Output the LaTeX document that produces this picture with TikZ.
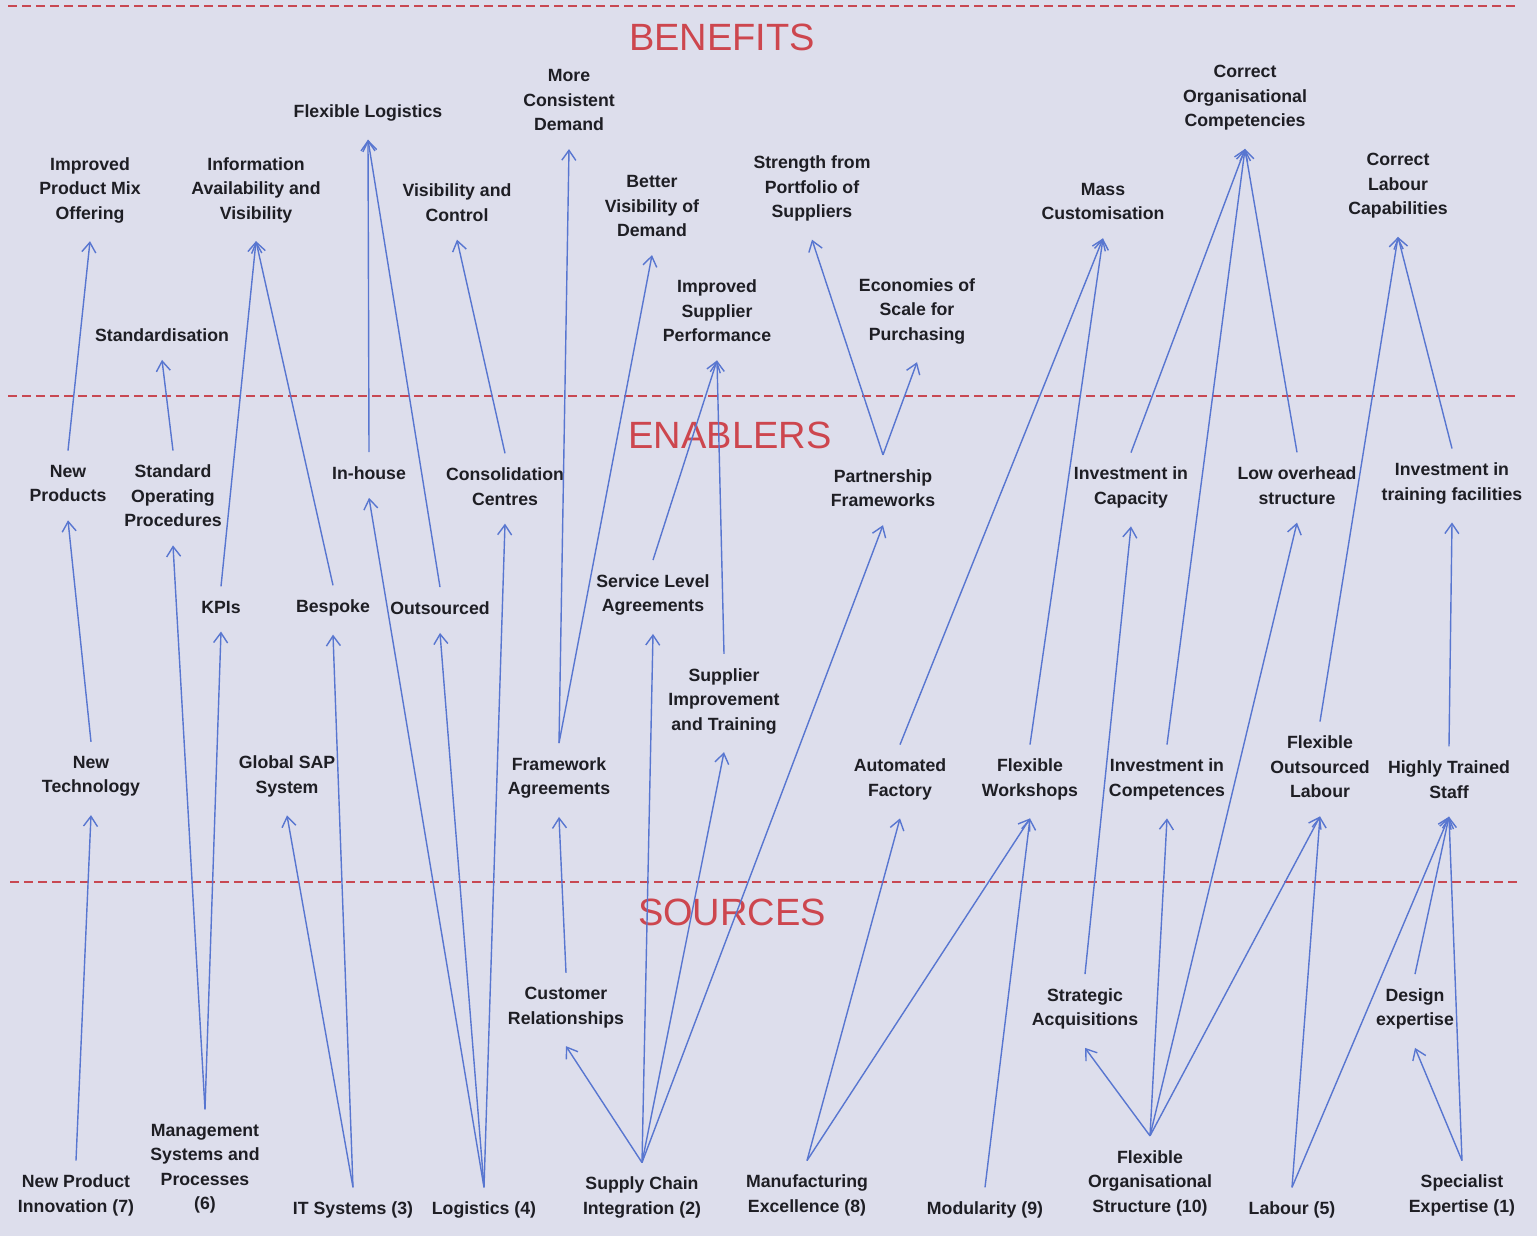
\documentclass[tikz,border=0pt]{standalone}
\usepackage{fontspec}
\setmainfont{Liberation Sans}
\usetikzlibrary{arrows.meta}

\definecolor{paper}{RGB}{221,222,236}
\definecolor{rulered}{RGB}{200,72,82}
\definecolor{linkblue}{RGB}{88,118,208}
\definecolor{ink}{RGB}{30,30,36}
\definecolor{tierred}{RGB}{205,70,78}

% arrow from the top of one label to the bottom of another
\newcommand\link[2]{\draw[conn] ([yshift=7pt]#1.north) -- ([yshift=-9pt]#2.south);}

\begin{document}
\begin{tikzpicture}[x=0.5pt,y=-0.5pt,
  lbl/.style={align=center, inner sep=0pt, text=ink,
    font=\bfseries\fontsize{8.85}{12.25}\selectfont},
  tier/.style={inner sep=0pt, text=tierred, font=\fontsize{19}{22}\selectfont},
  divider/.style={rulered, line width=1.2pt, dash pattern=on 4.5pt off 2.5pt},
  conn/.style={linkblue, line width=0.7pt, -{Straight Barb[length=5pt,width=7pt]}}]

\fill[paper] (0,0) rectangle (1537,1236);
\useasboundingbox (0,0) rectangle (1537,1236);

% tier dividers
\draw[divider] (8,6) -- (1520,6);
\draw[divider] (8,396) -- (1520,396);
\draw[divider] (10,882) -- (1520,882);

% tier headings
\node[tier] (hBen) at (722,37) {BENEFITS};
\node[tier] (hEna) at (730,435) {ENABLERS};
\node[tier] (hSrc) at (732,912) {SOURCES};

% benefits
\node[lbl] (IPM) at (90,190) {Improved\\Product Mix\\Offering};
\node[lbl] (IAV) at (256,190) {Information\\Availability and\\Visibility};
\node[lbl] (FL)  at (368,113) {Flexible Logistics};
\node[lbl] (VC)  at (457,202.5) {Visibility and\\Control};
\node[lbl] (MCD) at (569,100) {More\\Consistent\\Demand};
\node[lbl] (BVD) at (652,206) {Better\\Visibility of\\Demand};
\node[lbl] (SPS) at (812,188.5) {Strength from\\Portfolio of\\Suppliers};
\node[lbl] (MC)  at (1103,201.5) {Mass\\Customisation};
\node[lbl] (COC) at (1245,98) {Correct\\Organisational\\Competencies};
\node[lbl] (CLC) at (1398,186) {Correct\\Labour\\Capabilities};
\node[lbl] (Std) at (162,335) {Standardisation};
\node[lbl] (ISP) at (717,311) {Improved\\Supplier\\Performance};
\node[lbl] (ESP) at (917,311) {Economies of\\Scale for\\Purchasing};

% enablers
\node[lbl] (NP)   at (68,483.5) {New\\Products};
\node[lbl] (SOP)  at (173,496) {Standard\\Operating\\Procedures};
\node[lbl] (IH)   at (369,473) {In-house};
\node[lbl] (CC)   at (505,486.5) {Consolidation\\Centres};
\node[lbl] (PF)   at (883,488) {Partnership\\Frameworks};
\node[lbl] (IC)   at (1131,487.5) {Investment in\\Capacity};
\node[lbl] (LOS)  at (1297,485.5) {Low overhead\\structure};
\node[lbl] (ITF)  at (1452,483.5) {Investment in\\training facilities};
\node[lbl] (KPI)  at (221,607) {KPIs};
\node[lbl] (Besp) at (333,608) {Bespoke};
\node[lbl] (Outs) at (440,608) {Outsourced};
\node[lbl] (SLA)  at (653,595) {Service Level\\Agreements};
\node[lbl] (SIT)  at (724,701) {Supplier\\Improvement\\and Training};
\node[lbl] (NT)   at (91,776.5) {New\\Technology};
\node[lbl] (GSAP) at (287,776.5) {Global SAP\\System};
\node[lbl] (FA)   at (559,778) {Framework\\Agreements};
\node[lbl] (AF)   at (900,779.5) {Automated\\Factory};
\node[lbl] (FW)   at (1030,779.5) {Flexible\\Workshops};
\node[lbl] (ICo)  at (1167,779.5) {Investment in\\Competences};
\node[lbl] (FOL)  at (1320,767) {Flexible\\Outsourced\\Labour};
\node[lbl] (HTS)  at (1449,779.5) {Highly Trained\\Staff};

% sources
\node[lbl] (CR)  at (566,1007.5) {Customer\\Relationships};
\node[lbl] (SA)  at (1085,1009) {Strategic\\Acquisitions};
\node[lbl] (DE)  at (1415,1009) {Design\\expertise};
\node[lbl] (NPI) at (76,1195.5) {New Product\\Innovation (7)};
\node[lbl] (MSP) at (205,1168.5) {Management\\Systems and\\Processes\\(6)};
\node[lbl] (ITS) at (353,1210) {IT Systems (3)};
\node[lbl] (Log) at (484,1210) {Logistics (4)};
\node[lbl] (SCI) at (642,1197.5) {Supply Chain\\Integration (2)};
\node[lbl] (ME)  at (807,1195.5) {Manufacturing\\Excellence (8)};
\node[lbl] (Mod) at (985,1210) {Modularity (9)};
\node[lbl] (FOS) at (1150,1183) {Flexible\\Organisational\\Structure (10)};
\node[lbl] (Lab) at (1292,1210) {Labour (5)};
\node[lbl] (SE)  at (1462,1195.5) {Specialist\\Expertise (1)};

% enablers -> benefits
\link{NP}{IPM}
\link{SOP}{Std}
\link{KPI}{IAV}
\link{Besp}{IAV}
\link{IH}{FL}
\link{Outs}{FL}
\link{CC}{VC}
\link{FA}{MCD}
\link{FA}{BVD}
\link{SLA}{ISP}
\link{SIT}{ISP}
\link{PF}{SPS}
\link{PF}{ESP}
\link{AF}{MC}
\link{FW}{MC}
\link{IC}{COC}
\link{ICo}{COC}
\link{LOS}{COC}
\link{FOL}{CLC}
\link{ITF}{CLC}
\link{NT}{NP}
\link{HTS}{ITF}

% sources -> enablers
\link{NPI}{NT}
\link{MSP}{SOP}
\link{MSP}{KPI}
\link{ITS}{GSAP}
\link{ITS}{Besp}
\link{Log}{IH}
\link{Log}{Outs}
\link{Log}{CC}
\link{CR}{FA}
\link{SCI}{CR}
\link{SCI}{SLA}
\link{SCI}{SIT}
\link{SCI}{PF}
\link{ME}{AF}
\link{ME}{FW}
\link{Mod}{FW}
\link{SA}{IC}
\link{FOS}{SA}
\link{FOS}{ICo}
\link{FOS}{LOS}
\link{FOS}{FOL}
\link{Lab}{FOL}
\link{Lab}{HTS}
\link{DE}{HTS}
\link{SE}{DE}
\link{SE}{HTS}

\end{tikzpicture}
\end{document}
